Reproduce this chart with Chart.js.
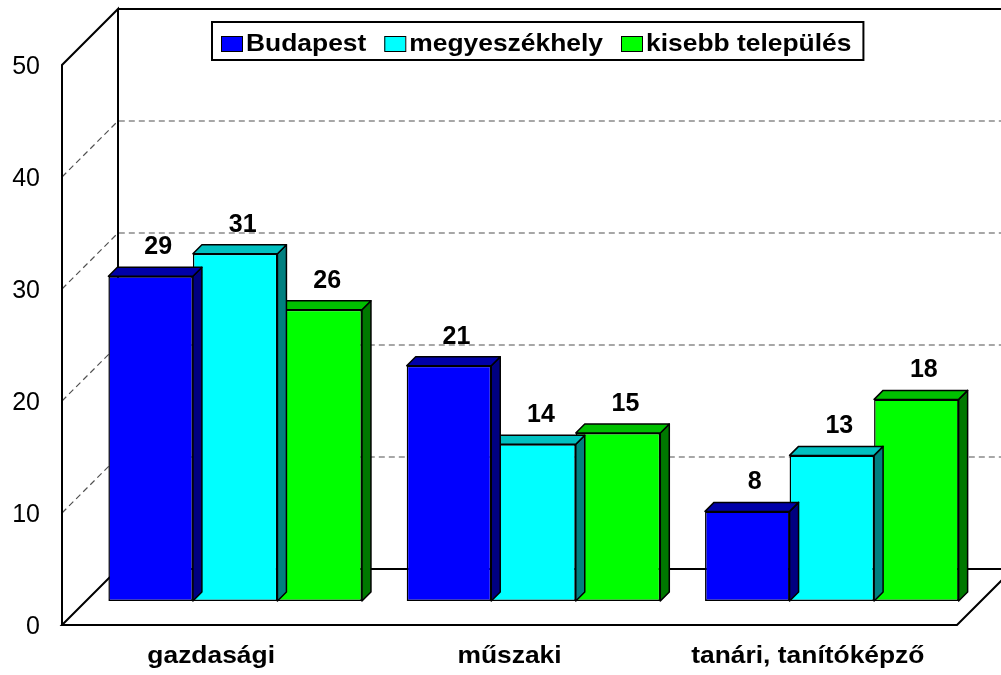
<!DOCTYPE html>
<html>
<head>
<meta charset="utf-8">
<script src="https://cdn.jsdelivr.net/npm/chart.js@4"></script>
<style>
  body { margin: 0; background: #fff; }
  canvas { display: block; }
</style>
</head>
<body>
<canvas id="chart" width="1001" height="675"></canvas>
<script>
// chart values
const categories = ["gazdasági", "műszaki", "tanári, tanítóképző"];
const seriesNames = ["Budapest", "megyeszékhely", "kisebb település"];
const budapest = [29, 21, 8];
const megyeszekhely = [31, 14, 13];
const kisebbTelepules = [26, 15, 18];
const yTicks = [0, 10, 20, 30, 40, 50];

// 3d look
const FRONT = 24;      // floor front edge is this far in front of the bars
const BACK = 32;       // back wall is this far behind the bars
const BAR_DEPTH = 9;
const faces = [
  { front: "#0000FF", top: "#0000A8", side: "#000080" },
  { front: "#00FFFF", top: "#00C0C0", side: "#008080" },
  { front: "#00FF00", top: "#00C000", side: "#007800" },
];

function drawText(ctx, text, x, y, font, align, sx) {
  ctx.save();
  ctx.font = font;
  ctx.fillStyle = "#000";
  ctx.textAlign = align;
  ctx.textBaseline = "alphabetic";
  ctx.translate(x, y);
  ctx.scale(sx, 1);
  ctx.fillText(text, 0, 0);
  ctx.restore();
}

function poly(ctx, pts, fill) {
  ctx.beginPath();
  ctx.moveTo(pts[0][0], pts[0][1]);
  for (let i = 1; i < pts.length; i++) ctx.lineTo(pts[i][0], pts[i][1]);
  ctx.closePath();
  ctx.fillStyle = fill;
  ctx.fill();
  ctx.stroke();
}

const box3d = {
  id: "box3d",
  beforeDatasetsDraw(chart) {
    const { ctx, chartArea: a, scales } = chart;
    const y = scales.y;
    const L = a.left, R = a.right;
    const y0 = y.getPixelForValue(0), yTop = y.getPixelForValue(50);

    ctx.save();
    // gridlines on back wall and left wall
    ctx.strokeStyle = "#505050";
    ctx.lineWidth = 1.2;
    ctx.setLineDash([6, 4]);
    yTicks.slice(1, -1).forEach((v) => {
      const py = y.getPixelForValue(v);
      ctx.beginPath();
      ctx.moveTo(L - FRONT, py + FRONT);
      ctx.lineTo(L + BACK, py - BACK);
      ctx.lineTo(R + BACK, py - BACK);
      ctx.stroke();
    });
    ctx.setLineDash([]);

    // walls and floor
    ctx.strokeStyle = "#000";
    ctx.lineWidth = 2;
    ctx.beginPath();
    // left wall
    ctx.moveTo(L - FRONT, y0 + FRONT);
    ctx.lineTo(L - FRONT, yTop + FRONT);
    ctx.lineTo(L + BACK, yTop - BACK);
    ctx.lineTo(L + BACK, y0 - BACK);
    // back wall top
    ctx.moveTo(L + BACK, yTop - BACK);
    ctx.lineTo(R + BACK, yTop - BACK);
    // floor
    ctx.moveTo(L - FRONT, y0 + FRONT);
    ctx.lineTo(L + BACK, y0 - BACK);
    ctx.lineTo(R + BACK, y0 - BACK);
    ctx.lineTo(R - FRONT, y0 + FRONT);
    ctx.closePath();
    ctx.stroke();

    // y tick labels on the front edge
    yTicks.forEach((v) => {
      const py = y.getPixelForValue(v) + FRONT;
      drawText(ctx, String(v), 40, py + 9, "25px 'Liberation Sans', Arial, sans-serif", "right", 1);
    });

    // category labels under the floor
    categories.forEach((c, i) => {
      const px = scales.x.getPixelForTick(i) - FRONT;
      drawText(ctx, c, px, 663, "bold 24px 'Liberation Sans', Arial, sans-serif", "center", 1.1);
    });
    ctx.restore();
  },
  afterDatasetDraw(chart, args) {
    const { ctx } = chart;
    const col = faces[args.index];
    const d = BAR_DEPTH;
    ctx.save();
    ctx.strokeStyle = "#000";
    ctx.lineWidth = 1.5;
    ctx.lineJoin = "round";
    args.meta.data.forEach((bar) => {
      const p = bar.getProps(["x", "y", "base", "width"], true);
      const xl = p.x - p.width / 2, xr = p.x + p.width / 2;
      poly(ctx, [[xr, p.y], [xr + d, p.y - d], [xr + d, p.base - d], [xr, p.base]], col.side);
      poly(ctx, [[xl, p.y], [xl + d, p.y - d], [xr + d, p.y - d], [xr, p.y]], col.top);
    });
    ctx.restore();
  },
  afterDatasetsDraw(chart) {
    const { ctx } = chart;
    ctx.save();
    // value labels
    chart.data.datasets.forEach((ds, i) => {
      chart.getDatasetMeta(i).data.forEach((bar, j) => {
        const p = bar.getProps(["x", "y"], true);
        drawText(ctx, String(ds.data[j]), p.x + BAR_DEPTH / 2 + 3, p.y - BAR_DEPTH - 13,
          "bold 25px 'Liberation Sans', Arial, sans-serif", "center", 1);
      });
    });

    // legend
    const font = "bold 24px 'Liberation Sans', Arial, sans-serif";
    const sx = 1.1;
    ctx.font = font;
    const left = 212, top = 22, bottom = 60;
    let x = 221;
    const items = [];
    chart.data.datasets.forEach((ds, i) => {
      const w = ctx.measureText(ds.label).width * sx;
      items.push({ x, w, label: ds.label, color: ds.backgroundColor });
      x += 21 + 4 + w + 18;
    });
    const right = x - 18 + 12;
    ctx.fillStyle = "#fff";
    ctx.fillRect(left, top, right - left, bottom - top);
    ctx.strokeStyle = "#000";
    ctx.lineWidth = 2;
    ctx.strokeRect(left, top, right - left, bottom - top);
    ctx.lineWidth = 1;
    items.forEach((it) => {
      ctx.fillStyle = it.color;
      ctx.fillRect(it.x, 36, 21, 15);
      ctx.strokeRect(it.x + 0.5, 36.5, 21, 15);
      drawText(ctx, it.label, it.x + 25, 51, font, "left", sx);
    });
    ctx.restore();
  },
};

const ctx = document.getElementById("chart").getContext("2d");
new Chart(ctx, {
  type: "bar",
  data: {
    labels: categories,
    datasets: [
      { label: seriesNames[0], data: budapest, backgroundColor: faces[0].front },
      { label: seriesNames[1], data: megyeszekhely, backgroundColor: faces[1].front },
      { label: seriesNames[2], data: kisebbTelepules, backgroundColor: faces[2].front },
    ].map((ds) => ({
      ...ds,
      borderColor: "#000",
      borderWidth: 1.5,
      borderSkipped: false,
      categoryPercentage: 0.85,
      barPercentage: 1.0,
    })),
  },
  options: {
    responsive: false,
    animation: false,
    layout: { padding: { left: 86, right: 20, top: 41, bottom: 74 } },
    scales: {
      x: { display: false },
      y: { display: false, min: 0, max: 50 },
    },
    plugins: {
      legend: { display: false },
      tooltip: { enabled: false },
    },
  },
  plugins: [box3d],
});
</script>
</body>
</html>
